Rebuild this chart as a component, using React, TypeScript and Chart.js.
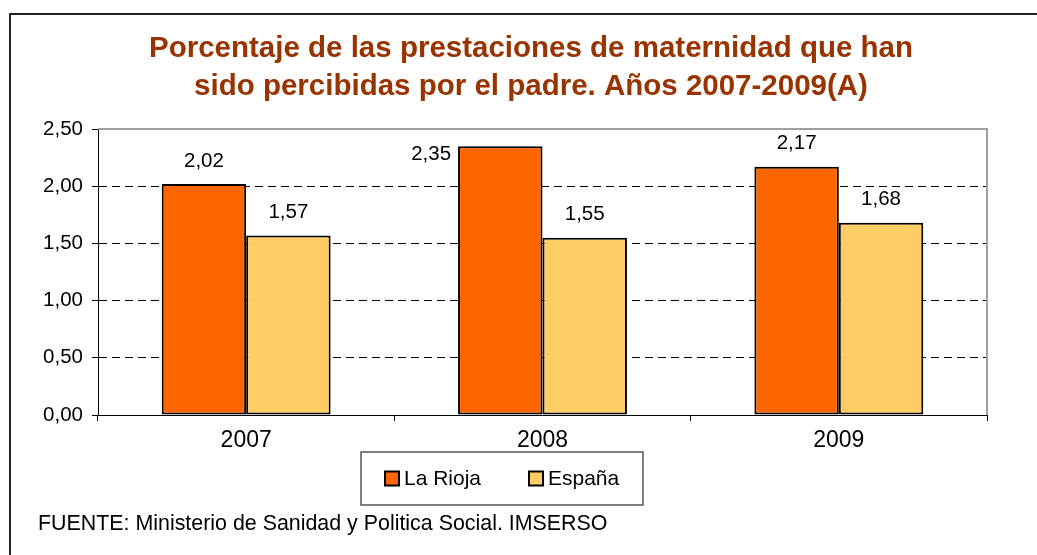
import React, { useEffect, useRef } from "react";
import { Chart, registerables } from "chart.js";

Chart.register(...registerables);

const categories = ["2007", "2008", "2009"];
const laRioja = [2.02, 2.35, 2.17];
const espana = [1.57, 1.55, 1.68];
const seriesNames = ["La Rioja", "España"];
const titleLines = [
  "Porcentaje de las prestaciones de maternidad que han",
  "sido percibidas por el padre. Años 2007-2009(A)",
];
const footnote = "FUENTE: Ministerio de Sanidad y Politica Social. IMSERSO";

const FONT = "'Liberation Sans', Arial, Helvetica, sans-serif";
const fmt = (v: number) => v.toFixed(2).replace(".", ",");

const decorPlugin = {
  id: "decor",
  beforeDatasetsDraw(chart: any) {
    const { ctx, chartArea } = chart;
    ctx.save();
    ctx.strokeStyle = "#a0a0a0";
    ctx.lineWidth = 2;
    ctx.beginPath();
    ctx.moveTo(chartArea.left, chartArea.top);
    ctx.lineTo(chartArea.right, chartArea.top);
    ctx.lineTo(chartArea.right, chartArea.bottom);
    ctx.stroke();
    ctx.restore();
  },
  afterDraw(chart: any) {
    const { ctx, chartArea } = chart;
    ctx.save();
    // title
    ctx.fillStyle = "#993300";
    ctx.font = `bold 29.5px ${FONT}`;
    ctx.textAlign = "center";
    ctx.textBaseline = "middle";
    const cx = 531;
    titleLines.forEach((t, i) => ctx.fillText(t, cx, 49 + i * 38));

    // data labels
    ctx.fillStyle = "#000";
    ctx.font = `20.5px ${FONT}`;
    chart.data.datasets.forEach((ds: any, di: number) => {
      const meta = chart.getDatasetMeta(di);
      meta.data.forEach((bar: any, i: number) => {
        const label = fmt(ds.data[i]);
        const ly = bar.y - 23;
        if (ly < chartArea.top + 8) {
          ctx.textAlign = "right";
          ctx.fillText(label, bar.x - bar.width / 2 - 7, bar.y + 8);
        } else {
          ctx.textAlign = "center";
          ctx.fillText(label, bar.x, ly);
        }
      });
    });

    // legend
    const lx = 361, ly = 452, lw = 282, lh = 53;
    ctx.strokeStyle = "#555";
    ctx.lineWidth = 1.5;
    ctx.strokeRect(lx, ly, lw, lh);
    const itemX = [385, 529];
    ctx.font = `21px ${FONT}`;
    ctx.textAlign = "left";
    chart.data.datasets.forEach((ds: any, di: number) => {
      const x = itemX[di];
      const y = ly + lh / 2;
      ctx.fillStyle = ds.backgroundColor;
      ctx.fillRect(x, y - 7, 14, 14);
      ctx.strokeStyle = "#000";
      ctx.lineWidth = 2;
      ctx.strokeRect(x, y - 7, 14, 14);
      ctx.fillStyle = "#000";
      ctx.fillText(ds.label, x + 19, y + 1);
    });

    // footnote
    ctx.font = `21.4px ${FONT}`;
    ctx.textAlign = "left";
    ctx.fillText(footnote, 38, 524);
    ctx.restore();
  },
};

export default function App() {
  const ref = useRef<HTMLCanvasElement>(null);
  useEffect(() => {
    if (!ref.current) return;
    const chart = new Chart(ref.current, {
      type: "bar",
      data: {
        labels: categories,
        datasets: [
          {
            label: seriesNames[0],
            data: laRioja,
            backgroundColor: "#FF6600",
            borderColor: "#000",
            borderWidth: 2,
            borderSkipped: false,
          },
          {
            label: seriesNames[1],
            data: espana,
            backgroundColor: "#FFCC66",
            borderColor: "#000",
            borderWidth: 2,
            borderSkipped: false,
          },
        ],
      },
      options: {
        animation: false,
        responsive: false,
        maintainAspectRatio: false,
        devicePixelRatio: 1,
        layout: { padding: { top: 129, right: 50, bottom: 100, left: 0 } },
        datasets: { bar: { categoryPercentage: 0.57, barPercentage: 1.0 } },
        plugins: { legend: { display: false }, title: { display: false }, tooltip: { enabled: false } },
        scales: {
          x: {
            afterFit: (s: any) => { s.height = 40; },
            grid: { display: true, drawOnChartArea: false, drawTicks: true, tickLength: 6, color: "#000", offset: true },
            border: { display: true, color: "#000", width: 1 },
            ticks: { color: "#000", font: { family: FONT, size: 23 }, padding: 6 },
          },
          y: {
            min: 0,
            max: 2.5,
            afterFit: (s: any) => { s.width = 98; },
            ticks: {
              stepSize: 0.5,
              color: "#000",
              font: { family: FONT, size: 20.5 },
              padding: 9,
              callback: (v: any) => fmt(Number(v)),
            },
            grid: {
              color: (c: any) => (c.tick && (c.tick.value === 0 || c.tick.value === 2.5) ? "rgba(0,0,0,0)" : "#000"),
              tickColor: "#000",
              tickLength: 6,
              lineWidth: 1,
              tickWidth: 1,
              tickBorderDash: [],
            },
            border: { display: true, color: "#000", width: 1, dash: [8, 5] },
          },
        },
      },
      plugins: [decorPlugin],
    } as any);
    return () => chart.destroy();
  }, []);

  return (
    <div style={{ position: "fixed", left: 0, top: 0, width: 1037, height: 555, background: "#fff", overflow: "hidden" }}>
      <div style={{ position: "absolute", left: 9, top: 13, width: 1100, height: 600, border: "2px solid #222", boxSizing: "border-box" }} />
      <canvas ref={ref} width={1037} height={555} style={{ position: "absolute", left: 0, top: 0, width: 1037, height: 555 }} />
    </div>
  );
}
